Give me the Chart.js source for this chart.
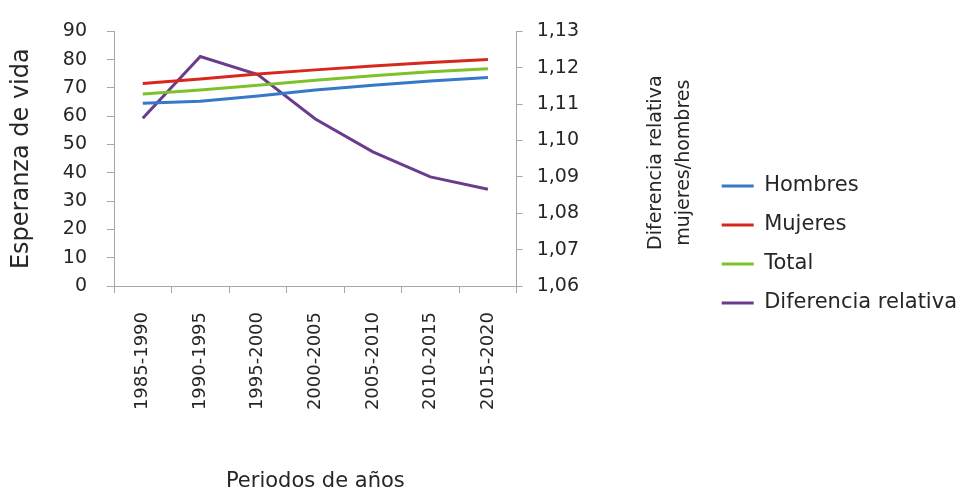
<!DOCTYPE html>
<html>
<head>
<meta charset="utf-8">
<script src="https://cdn.jsdelivr.net/npm/chart.js@4/dist/chart.umd.min.js"></script>
<style>
  html, body { margin: 0; padding: 0; background: #ffffff; }
  #wrap { width: 963px; height: 494px; position: relative; }
</style>
</head>
<body>
<div id="wrap"><canvas id="lifeChart"></canvas></div>
<script>
// --- Data ---
const periodos = ['1985-1990', '1990-1995', '1995-2000', '2000-2005', '2005-2010', '2010-2015', '2015-2020'];
const hombres = [64.6, 65.3, 67.2, 69.3, 71.0, 72.5, 73.7];
const mujeres = [71.6, 73.2, 74.9, 76.4, 77.8, 79.0, 80.1];
const total = [67.9, 69.3, 71.0, 72.7, 74.3, 75.7, 76.8];
const diferencia = [1.1061, 1.1231, 1.1181, 1.1059, 1.0969, 1.0900, 1.0866];

const leftTicks = [0, 10, 20, 30, 40, 50, 60, 70, 80, 90];
const rightTicks = [1.06, 1.07, 1.08, 1.09, 1.10, 1.11, 1.12, 1.13];

const leftTitle = 'Esperanza de vida';
const rightTitle = ['Diferencia relativa', 'mujeres/hombres'];
const bottomTitle = 'Periodos de años';

// --- Styles ---
const textColor = '#262626';
const axisColor = '#a6a6a6';
const fontFamily = '"DejaVu Sans", sans-serif';

// Right axis title reads bottom-to-top, so it is drawn by hand next to the scale
const rightTitlePlugin = {
    id: 'rightTitle',
    afterDraw(chart) {
        const s = chart.scales.y1;
        const ctx = chart.ctx;
        const cy = (s.top + s.bottom) / 2 + 4;
        ctx.save();
        ctx.font = '19px ' + fontFamily;
        ctx.fillStyle = textColor;
        ctx.textAlign = 'center';
        ctx.textBaseline = 'middle';
        rightTitle.forEach((line, i) => {
            ctx.save();
            ctx.translate(s.left + 139 + i * 28, cy);
            ctx.rotate(-Math.PI / 2);
            ctx.fillText(line, 0, 0);
            ctx.restore();
        });
        ctx.restore();
    }
};

// Nudge the legend box a little up and right, as in the original
const legendNudgePlugin = {
    id: 'legendNudge',
    afterLayout(chart) {
        const lg = chart.legend;
        lg.top -= 15;
        lg.bottom -= 15;
        lg.left += 4;
        lg.right += 4;
    }
};

function lineSet(label, data, color, axis) {
    return {
        label: label,
        data: data,
        yAxisID: axis,
        borderColor: color,
        backgroundColor: color,
        borderWidth: 3,
        pointBorderColor: color,
        pointBackgroundColor: color,
        pointBorderWidth: 3,
        pointRadius: 0,
        pointHoverRadius: 0,
        tension: 0
    };
}

const ctx = document.getElementById('lifeChart').getContext('2d');
new Chart(ctx, {
    type: 'line',
    data: {
        labels: periodos,
        datasets: [
            lineSet('Hombres', hombres, '#3579c8', 'y'),
            lineSet('Mujeres', mujeres, '#d8271d', 'y'),
            lineSet('Total', total, '#7dc22b', 'y'),
            lineSet('Diferencia relativa', diferencia, '#6b3c8e', 'y1')
        ]
    },
    options: {
        responsive: true,
        maintainAspectRatio: false,
        animation: false,
        layout: { padding: { left: 7, top: 25, right: 0, bottom: 0 } },
        plugins: {
            tooltip: { enabled: false },
            legend: {
                position: 'right',
                maxWidth: 300,
                labels: {
                    usePointStyle: true,
                    pointStyle: 'line',
                    pointStyleWidth: 32,
                    padding: 18,
                    color: textColor,
                    font: { family: fontFamily, size: 21 }
                }
            }
        },
        scales: {
            x: {
                offset: true,
                grid: { offset: true, drawOnChartArea: false, tickLength: 7, color: axisColor },
                border: { color: axisColor },
                ticks: {
                    color: textColor,
                    font: { family: fontFamily, size: 18 },
                    minRotation: 90,
                    maxRotation: 90,
                    padding: 19
                },
                title: {
                    display: true,
                    text: bottomTitle,
                    color: textColor,
                    font: { family: fontFamily, size: 21 },
                    padding: { top: 0, bottom: 0 }
                },
                afterFit(scale) { scale.height = 208; }
            },
            y: {
                position: 'left',
                min: 0,
                max: 90,
                afterBuildTicks(scale) { scale.ticks = leftTicks.map(v => ({ value: v })); },
                grid: { drawOnChartArea: false, tickLength: 7, color: axisColor },
                border: { color: axisColor },
                ticks: {
                    color: textColor,
                    font: { family: fontFamily, size: 19 },
                    padding: 20
                },
                title: {
                    display: true,
                    text: leftTitle,
                    color: textColor,
                    font: { family: fontFamily, size: 24 },
                    padding: { top: 0, bottom: 4 }
                },
                afterFit(scale) { scale.width = 107; }
            },
            y1: {
                position: 'right',
                min: 1.06,
                max: 1.13,
                afterBuildTicks(scale) { scale.ticks = rightTicks.map(v => ({ value: v })); },
                grid: { drawOnChartArea: false, tickLength: 6, color: axisColor },
                border: { color: axisColor },
                ticks: {
                    color: textColor,
                    font: { family: fontFamily, size: 19 },
                    padding: 14,
                    callback: function(value) {
                        return value.toFixed(2).replace('.', ',');
                    }
                },
                afterFit(scale) { scale.width = 183; }
            }
        }
    },
    plugins: [rightTitlePlugin, legendNudgePlugin]
});
</script>
</body>
</html>
